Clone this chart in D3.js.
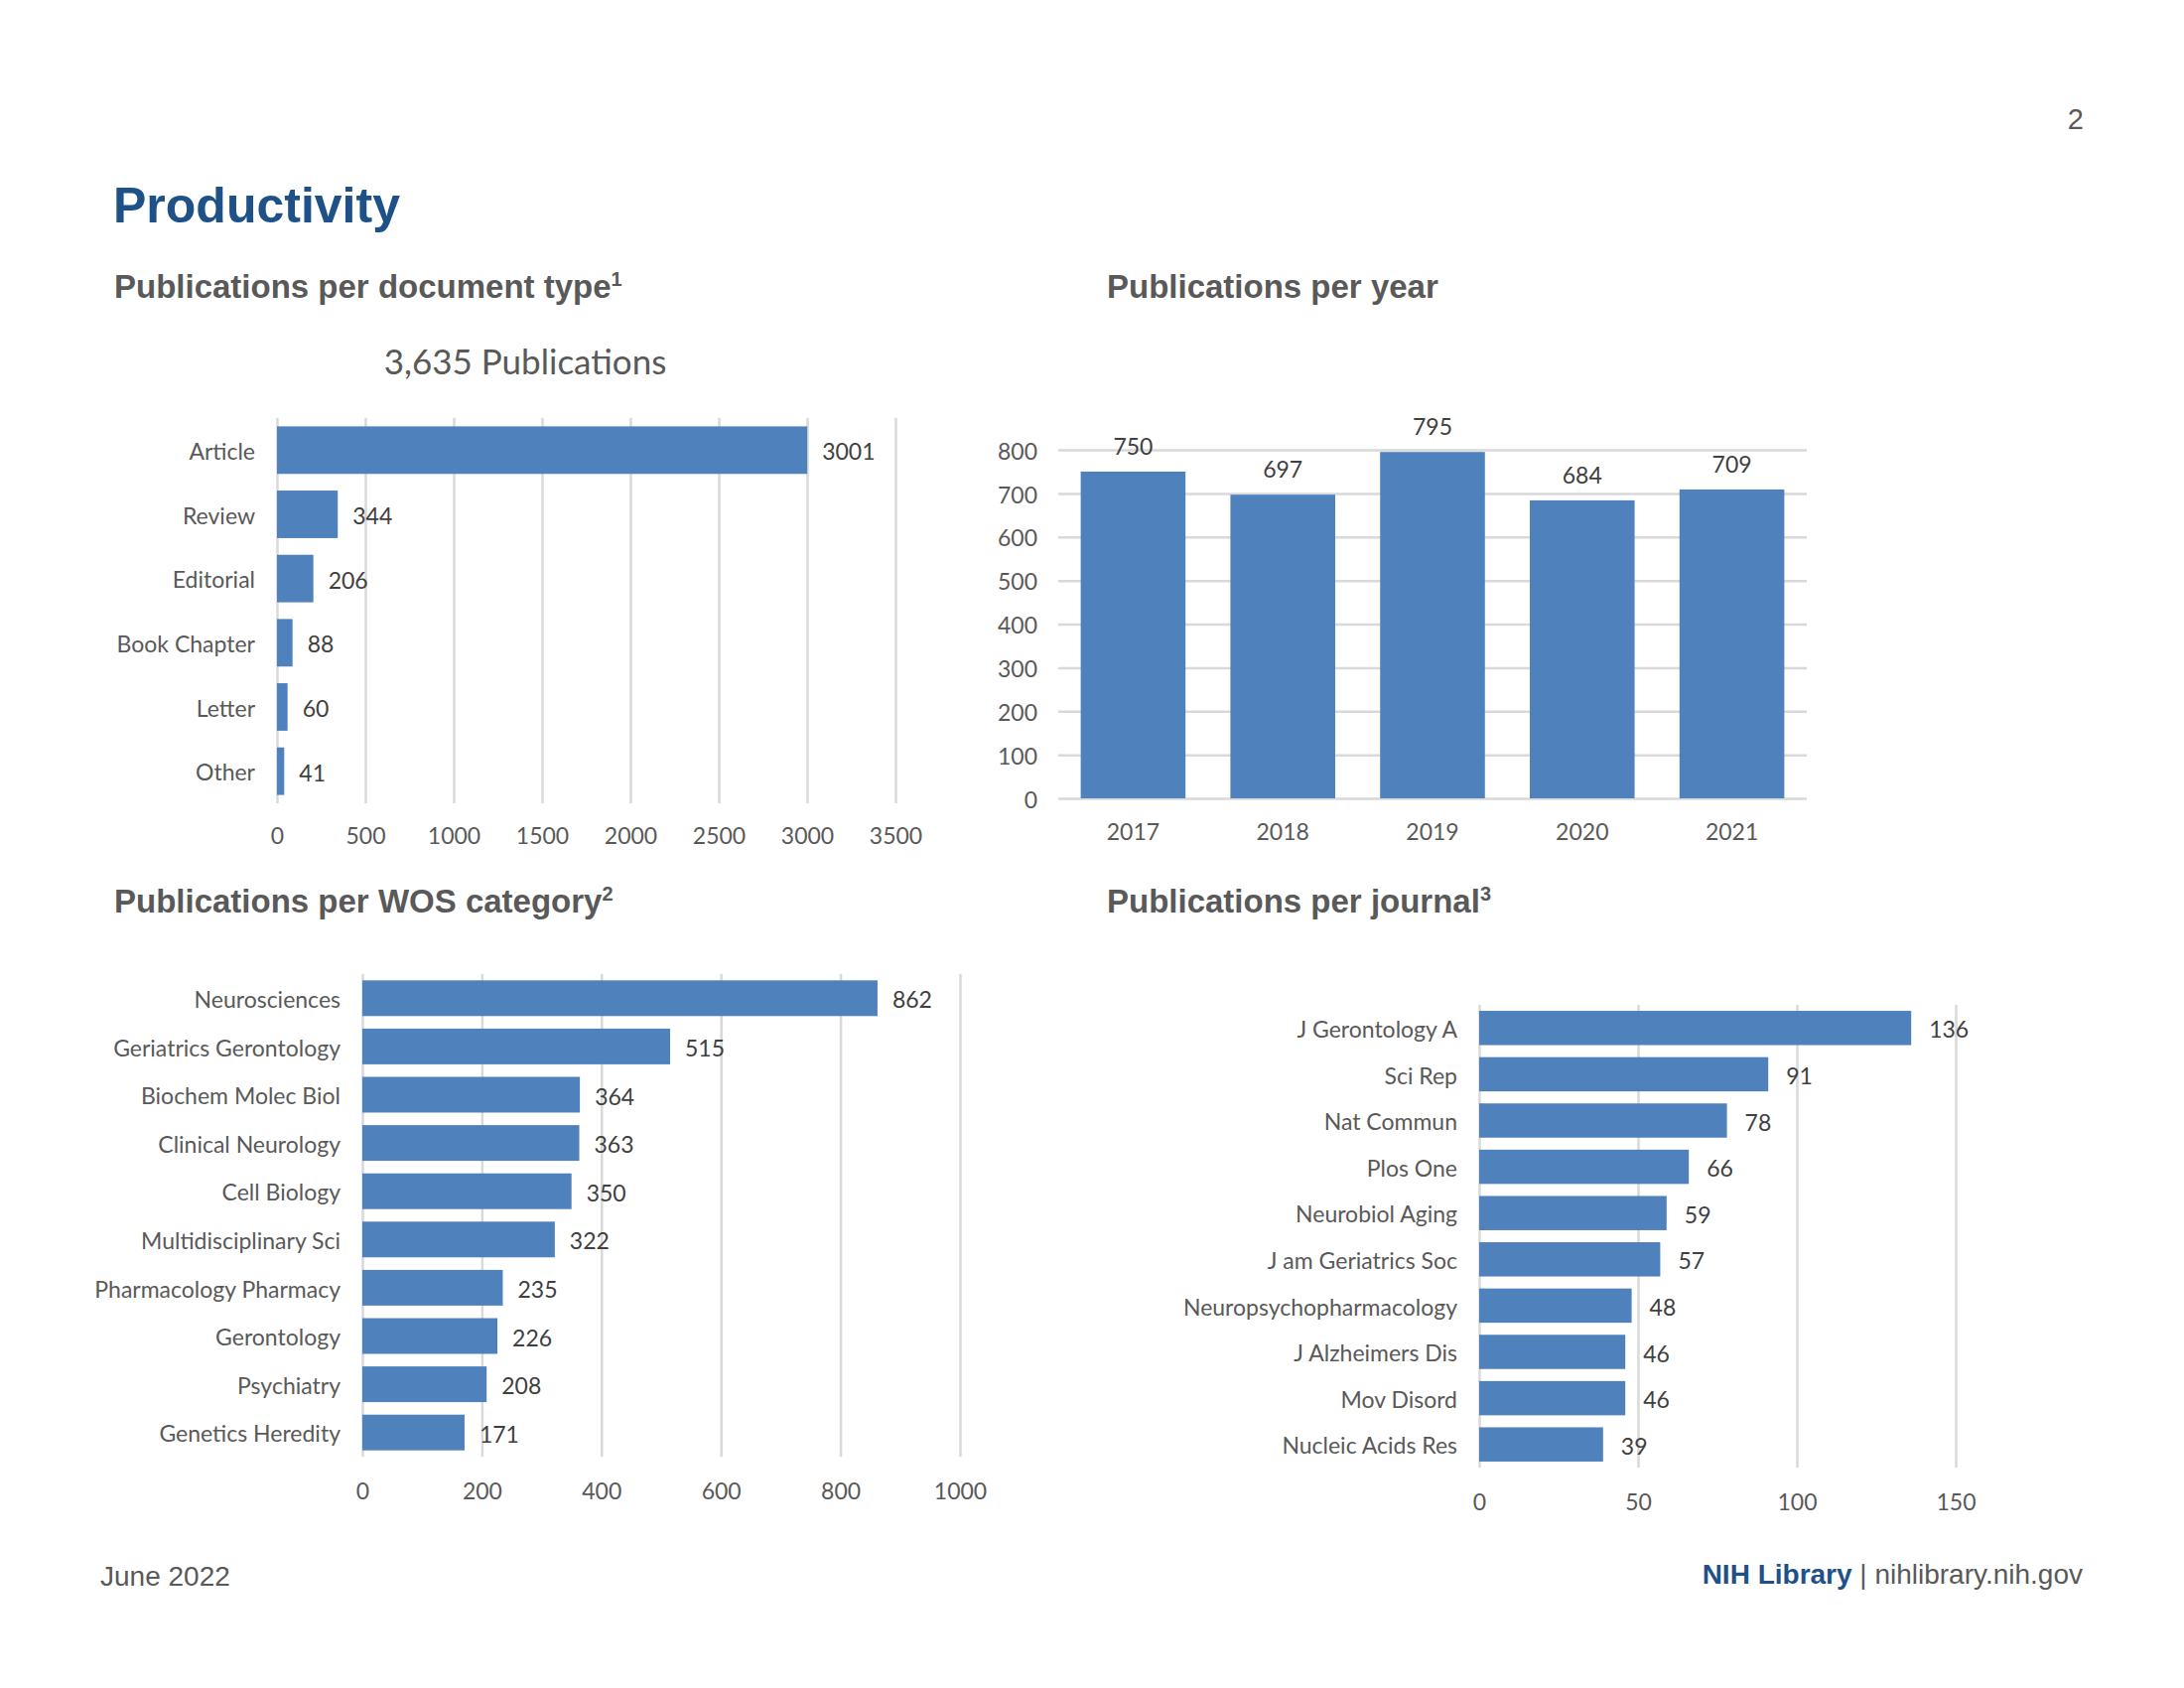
<!DOCTYPE html>
<html>
<head>
<meta charset="utf-8">
<script src="https://cdn.jsdelivr.net/npm/d3@7"></script>
<style>
  body { margin: 0; background: #fff; }
  .tick text { font-family: Lato, sans-serif; fill: #595959; }
  .grid line { stroke: #d9d9d9; stroke-width: 2.5; }
  .bar-label { font-family: Lato, sans-serif; fill: #404040; }
  .heading { font-family: "Liberation Sans", Arial, sans-serif; font-weight: bold; fill: #595959; }
</style>
</head>
<body>
<svg id="page"></svg>
<script>
// Publications per document type
const docTypes = ['Article', 'Review', 'Editorial', 'Book Chapter', 'Letter', 'Other'];
const docCounts = [3001, 344, 206, 88, 60, 41];
const docTicks = [0, 500, 1000, 1500, 2000, 2500, 3000, 3500];

// Publications per year
const years = ['2017', '2018', '2019', '2020', '2021'];
const yearCounts = [750, 697, 795, 684, 709];
const yearTicks = [0, 100, 200, 300, 400, 500, 600, 700, 800];

// Publications per WOS category
const wosCategories = ['Neurosciences', 'Geriatrics Gerontology', 'Biochem Molec Biol', 'Clinical Neurology',
    'Cell Biology', 'Multidisciplinary Sci', 'Pharmacology Pharmacy', 'Gerontology', 'Psychiatry', 'Genetics Heredity'];
const wosCounts = [862, 515, 364, 363, 350, 322, 235, 226, 208, 171];
const wosTicks = [0, 200, 400, 600, 800, 1000];

// Publications per journal
const journals = ['J Gerontology A', 'Sci Rep', 'Nat Commun', 'Plos One', 'Neurobiol Aging', 'J am Geriatrics Soc',
    'Neuropsychopharmacology', 'J Alzheimers Dis', 'Mov Disord', 'Nucleic Acids Res'];
const journalCounts = [136, 91, 78, 66, 59, 57, 48, 46, 46, 39];
const journalTicks = [0, 50, 100, 150];

const barColor = '#4f81bd';
const fontSize = 23;

const svg = d3.select('#page')
    .attr('width', 2200)
    .attr('height', 1700);

class HBarChart {
    constructor(_config, _categories, _values) {
        this.config = {
            left: _config.left,
            right: _config.right,
            top: _config.top,
            bottom: _config.bottom,
            ticks: _config.ticks,
            padding: _config.padding || 0.26,
            labelGap: _config.labelGap || 16,
            tickPadding: _config.tickPadding || 25
        }
        this.categories = _categories;
        this.values = _values;
        this.initVis();
    }

    initVis() {
        let vis = this;
        vis.width = vis.config.right - vis.config.left;
        vis.height = vis.config.bottom - vis.config.top;

        vis.chart = svg.append('g')
            .attr('transform', `translate(${vis.config.left}, ${vis.config.top})`);

        vis.xScale = d3.scaleLinear()
            .domain(d3.extent(vis.config.ticks))
            .range([0, vis.width]);
        vis.yScale = d3.scaleBand()
            .domain(vis.categories)
            .range([0, vis.height])
            .paddingInner(vis.config.padding)
            .paddingOuter(vis.config.padding / 2);

        // gridlines + tick labels in one axis
        vis.xAxis = d3.axisBottom(vis.xScale)
            .tickValues(vis.config.ticks)
            .tickFormat(d3.format('d'))
            .tickSizeInner(-vis.height)
            .tickSizeOuter(0)
            .tickPadding(vis.config.tickPadding);
        vis.yAxis = d3.axisLeft(vis.yScale)
            .tickSize(0)
            .tickPadding(22);

        vis.renderVis();
    }

    renderVis() {
        let vis = this;
        const idx = d3.range(vis.categories.length);

        vis.chart.append('g')
            .attr('class', 'grid')
            .attr('transform', `translate(0, ${vis.height})`)
            .call(vis.xAxis)
            .call(g => g.select('.domain').remove())
            .selectAll('text').attr('font-size', fontSize);

        vis.chart.selectAll('.bar')
            .data(idx)
            .join('rect')
            .attr('class', 'bar')
            .attr('fill', barColor)
            .attr('x', vis.xScale(0))
            .attr('y', d => vis.yScale(vis.categories[d]))
            .attr('width', d => vis.xScale(vis.values[d]) - vis.xScale(0))
            .attr('height', vis.yScale.bandwidth());

        vis.chart.selectAll('.bar-label')
            .data(idx)
            .join('text')
            .attr('class', 'bar-label')
            .attr('font-size', fontSize)
            .attr('x', d => vis.xScale(vis.values[d]) + vis.config.labelGap)
            .attr('y', d => vis.yScale(vis.categories[d]) + vis.yScale.bandwidth() / 2 + 2)
            .attr('dy', '0.35em')
            .text(d => vis.values[d]);

        vis.chart.append('g')
            .call(vis.yAxis)
            .call(g => g.select('.domain').remove())
            .call(g => g.selectAll('text').attr('dy', '0.42em'))
            .selectAll('text').attr('font-size', fontSize);
    }
}

class VBarChart {
    constructor(_config, _categories, _values) {
        this.config = {
            left: _config.left,
            right: _config.right,
            top: _config.top,
            bottom: _config.bottom,
            ticks: _config.ticks,
            padding: _config.padding || 0.3
        }
        this.categories = _categories;
        this.values = _values;
        this.initVis();
    }

    initVis() {
        let vis = this;
        vis.width = vis.config.right - vis.config.left;
        vis.height = vis.config.bottom - vis.config.top;

        vis.chart = svg.append('g')
            .attr('transform', `translate(${vis.config.left}, ${vis.config.top})`);

        vis.xScale = d3.scaleBand()
            .domain(vis.categories)
            .range([0, vis.width])
            .paddingInner(vis.config.padding)
            .paddingOuter(vis.config.padding / 2);
        vis.yScale = d3.scaleLinear()
            .domain(d3.extent(vis.config.ticks))
            .range([vis.height, 0]);

        vis.yAxis = d3.axisLeft(vis.yScale)
            .tickValues(vis.config.ticks)
            .tickFormat(d3.format('d'))
            .tickSizeInner(-vis.width)
            .tickSizeOuter(0)
            .tickPadding(21);
        vis.xAxis = d3.axisBottom(vis.xScale)
            .tickSize(0)
            .tickPadding(26);

        vis.renderVis();
    }

    renderVis() {
        let vis = this;
        const idx = d3.range(vis.categories.length);

        vis.chart.append('g')
            .attr('class', 'grid')
            .call(vis.yAxis)
            .call(g => g.select('.domain').remove())
            .call(g => g.selectAll('text').attr('dy', '0.4em'))
            .selectAll('text').attr('font-size', fontSize);

        vis.chart.selectAll('.bar')
            .data(idx)
            .join('rect')
            .attr('class', 'bar')
            .attr('fill', barColor)
            .attr('x', d => vis.xScale(vis.categories[d]))
            .attr('y', d => vis.yScale(vis.values[d]))
            .attr('width', vis.xScale.bandwidth())
            .attr('height', d => vis.yScale(0) - vis.yScale(vis.values[d]));

        vis.chart.selectAll('.bar-label')
            .data(idx)
            .join('text')
            .attr('class', 'bar-label')
            .attr('font-size', fontSize)
            .attr('text-anchor', 'middle')
            .attr('x', d => vis.xScale(vis.categories[d]) + vis.xScale.bandwidth() / 2)
            .attr('y', d => vis.yScale(vis.values[d]) - 17)
            .text(d => vis.values[d]);

        vis.chart.append('g')
            .attr('transform', `translate(0, ${vis.height})`)
            .call(vis.xAxis)
            .call(g => g.select('.domain').remove())
            .selectAll('text').attr('font-size', fontSize);
    }
}

// page texts
svg.append('text')
    .attr('x', 2099).attr('y', 130)
    .attr('text-anchor', 'end')
    .attr('font-family', '"Liberation Sans", Arial, sans-serif')
    .attr('font-size', 29)
    .attr('fill', '#595959')
    .text('2');

svg.append('text')
    .attr('x', 114).attr('y', 224)
    .attr('font-family', '"Liberation Sans", Arial, sans-serif')
    .attr('font-weight', 'bold')
    .attr('font-size', 50)
    .attr('fill', '#1f5189')
    .text('Productivity');

function heading(x, y, label, sup) {
    const t = svg.append('text')
        .attr('class', 'heading')
        .attr('x', x).attr('y', y)
        .attr('font-size', 33)
        .text(label);
    if (sup) {
        t.append('tspan')
            .attr('font-size', 20)
            .attr('dy', -12)
            .text(sup);
    }
}
heading(115, 300, 'Publications per document type', '1');
heading(1115, 300, 'Publications per year');
heading(115, 919, 'Publications per WOS category', '2');
heading(1115, 919, 'Publications per journal', '3');

svg.append('text')
    .attr('x', 529).attr('y', 377)
    .attr('text-anchor', 'middle')
    .attr('font-family', 'Lato, sans-serif')
    .attr('font-size', 35)
    .attr('fill', '#595959')
    .text('3,635 Publications');

// footer
svg.append('text')
    .attr('x', 101).attr('y', 1597)
    .attr('font-family', '"Liberation Sans", Arial, sans-serif')
    .attr('font-size', 28)
    .attr('fill', '#595959')
    .text('June 2022');

const footer = svg.append('text')
    .attr('x', 2098).attr('y', 1595)
    .attr('text-anchor', 'end')
    .attr('font-family', '"Liberation Sans", Arial, sans-serif')
    .attr('font-size', 28)
    .attr('fill', '#595959');
footer.append('tspan').attr('font-weight', 'bold').attr('fill', '#1f5189').text('NIH Library');
footer.append('tspan').text(' | nihlibrary.nih.gov');

// charts
new HBarChart({left: 279, right: 902, top: 421, bottom: 809, ticks: docTicks, labelGap: 15}, docTypes, docCounts);
new VBarChart({left: 1066, right: 1820, top: 453, bottom: 804, ticks: yearTicks}, years, yearCounts);
new HBarChart({left: 365, right: 967, top: 981, bottom: 1467, ticks: wosTicks, labelGap: 15, tickPadding: 27}, wosCategories, wosCounts);
new HBarChart({left: 1490, right: 1970, top: 1012, bottom: 1478, ticks: journalTicks, labelGap: 18, tickPadding: 27}, journals, journalCounts);
</script>
</body>
</html>
